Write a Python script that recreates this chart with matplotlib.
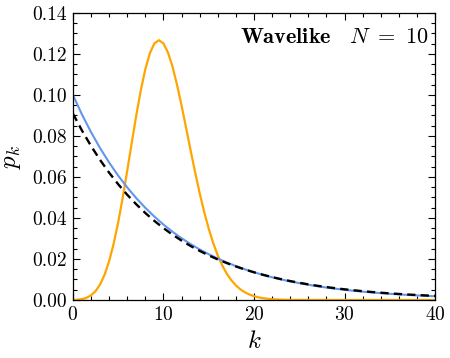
import matplotlib
matplotlib.use("Agg")
import matplotlib.pyplot as plt
from matplotlib.ticker import MultipleLocator

plt.rcParams["font.family"] = "cmr10"
plt.rcParams["mathtext.fontset"] = "cm"
plt.rcParams["axes.formatter.use_mathtext"] = True

# integer k for the two decaying curves
k_int = list(range(41))

# blue curve (starts at 0.1)
blue_p = [0.1, 0.09048, 0.08187, 0.07408, 0.06703, 0.06065, 0.05488, 0.04966,
          0.04493, 0.04066, 0.03679, 0.03329, 0.03012, 0.02725, 0.02466, 0.02231,
          0.02019, 0.01827, 0.01653, 0.01496, 0.01353, 0.01225, 0.01108, 0.01003,
          0.00907, 0.00821, 0.00743, 0.00672, 0.00608, 0.00550, 0.00498, 0.00450,
          0.00408, 0.00369, 0.00334, 0.00302, 0.00273, 0.00247, 0.00224, 0.00202,
          0.00183]

# black dashed curve (starts at ~0.091)
black_p = [0.09091, 0.08264, 0.07513, 0.06830, 0.06209, 0.05645, 0.05131, 0.04665,
           0.04241, 0.03855, 0.03505, 0.03186, 0.02897, 0.02633, 0.02394, 0.02176,
           0.01978, 0.01799, 0.01635, 0.01486, 0.01351, 0.01228, 0.01117, 0.01015,
           0.00923, 0.00839, 0.00763, 0.00693, 0.00630, 0.00573, 0.00521, 0.00474,
           0.00431, 0.00391, 0.00356, 0.00323, 0.00294, 0.00267, 0.00243, 0.00221,
           0.00201]

# orange bump, sampled every half step, then flat to 40
k_orange = [0, 0.5, 1, 1.5, 2, 2.5, 3, 3.5, 4, 4.5, 5, 5.5, 6, 6.5, 7, 7.5, 8, 8.5,
            9, 9.5, 10, 10.5, 11, 11.5, 12, 12.5, 13, 13.5, 14, 14.5, 15, 15.5, 16,
            16.5, 17, 17.5, 18, 18.5, 19, 19.5, 20, 20.5, 21, 21.5, 22, 22.5, 23,
            23.5, 24, 30, 35, 40]
orange_p = [0.00005, 0.00016, 0.00045, 0.00108, 0.00227, 0.00432, 0.00757, 0.01234,
            0.01892, 0.02743, 0.03783, 0.04987, 0.06306, 0.07672, 0.09008, 0.10230,
            0.11260, 0.12035, 0.12511, 0.12668, 0.12511, 0.12065, 0.11374, 0.10491,
            0.09478, 0.08393, 0.07291, 0.06217, 0.05208, 0.04288, 0.03472, 0.02766,
            0.02170, 0.01677, 0.01276, 0.00958, 0.00709, 0.00518, 0.00373, 0.00266,
            0.00187, 0.00130, 0.00089, 0.00060, 0.00040, 0.00027, 0.00018, 0.00011,
            0.00007, 0.0, 0.0, 0.0]

fig = plt.figure(figsize=(4.5, 3.58), dpi=100)
ax = fig.add_axes([0.162, 0.162, 0.805, 0.802])

ax.plot(k_orange, orange_p, color="orange", lw=1.6)
ax.plot(k_int, blue_p, color="cornflowerblue", lw=1.5)
ax.plot(k_int, black_p, color="black", lw=1.7, ls=(0, (3.5, 2.2)))

ax.set_xlim(0, 40)
ax.set_ylim(0, 0.14)
ax.xaxis.set_major_locator(MultipleLocator(10))
ax.xaxis.set_minor_locator(MultipleLocator(2))
ax.yaxis.set_major_locator(MultipleLocator(0.02))
ax.yaxis.set_minor_locator(MultipleLocator(0.005))
ax.yaxis.set_major_formatter(plt.FormatStrFormatter("%.2f"))
ax.tick_params(which="both", direction="in", top=True, right=True, labelsize=14)
ax.tick_params(which="major", length=5, width=0.8, pad=4)
ax.tick_params(which="minor", length=3, width=0.8)
for s in ax.spines.values():
    s.set_linewidth(0.9)

ax.set_xlabel(r"$k$", fontsize=18, labelpad=5)
ax.set_ylabel(r"$p_k$", fontsize=18, labelpad=7)

ax.text(0.983, 0.948, r"$\mathbf{Wavelike}\quad N\ =\ 10$", transform=ax.transAxes,
        ha="right", va="top", fontsize=16)

plt.savefig("out.png", dpi=100)
